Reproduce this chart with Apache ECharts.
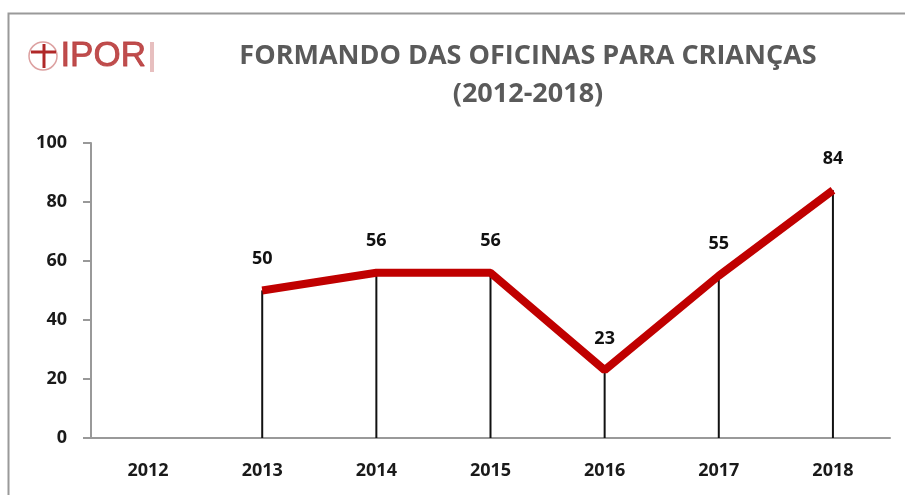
<!DOCTYPE html>
<html>
<head>
<meta charset="utf-8">
<script src="https://cdn.jsdelivr.net/npm/echarts@6/dist/echarts.min.js"></script>
<style>
  html, body { margin: 0; padding: 0; background: #fff; }
  #chart { width: 905px; height: 495px; }
</style>
</head>
<body>
<div id="chart"></div>
<script>
// anos e número de formandos
const years = ['2012', '2013', '2014', '2015', '2016', '2017', '2018']
const formandos = [null, 50, 56, 56, 23, 55, 84]
const yTicks = [0, 20, 40, 60, 80, 100]

const chart = echarts.init(document.getElementById('chart'))

const labelFont = {
    fontFamily: 'Open Sans',
    fontWeight: 'bold',
    fontSize: 18,
    color: '#1a1a1a'
}

const option = {
    animation: false,
    title: {
        text: 'FORMANDO DAS OFICINAS PARA CRIANÇAS\n(2012-2018)',
        left: 523,
        top: 32,
        textAlign: 'center',
        textStyle: {
            fontFamily: 'Open Sans',
            fontWeight: 'bold',
            fontSize: 27,
            color: '#5a5a5a',
            lineHeight: 38
        }
    },
    graphic: [
        // moldura
        {
            type: 'rect',
            shape: { x: 8.5, y: 13.5, width: 910, height: 500 },
            style: { fill: 'none', stroke: '#9a9a9a', lineWidth: 2 }
        },
        // logotipo
        {
            type: 'circle',
            shape: { cx: 43, cy: 56, r: 14 },
            style: { fill: 'none', stroke: '#c46060', lineWidth: 1.5, opacity: 0.6 }
        },
        {
            type: 'line',
            shape: { x1: 31, y1: 52, x2: 56, y2: 52 },
            style: { stroke: '#b02828', lineWidth: 3 }
        },
        {
            type: 'line',
            shape: { x1: 44, y1: 44, x2: 44, y2: 68 },
            style: { stroke: '#b02828', lineWidth: 3 }
        },
        {
            type: 'text',
            left: 60,
            top: 38,
            style: { text: 'IPOR', fill: '#b83a3a', stroke: '#b83a3a', lineWidth: 0.8, font: '35px "Liberation Sans"', opacity: 0.9 }
        },
        {
            type: 'rect',
            shape: { x: 150, y: 42, width: 4, height: 30 },
            style: { fill: '#d08080', opacity: 0.5 }
        }
    ],
    grid: {
        left: 91,
        right: 15,
        top: 143,
        bottom: 57
    },
    xAxis: {
        type: 'category',
        data: years,
        boundaryGap: true,
        axisLine: { lineStyle: { color: '#999', width: 2 } },
        axisTick: { show: false },
        axisLabel: Object.assign({ margin: 24 }, labelFont)
    },
    yAxis: {
        type: 'value',
        min: yTicks[0],
        max: yTicks[yTicks.length - 1],
        interval: 20,
        axisLine: { show: true, lineStyle: { color: '#999', width: 2 } },
        axisTick: { show: true, length: 8, lineStyle: { color: '#999', width: 2 } },
        splitLine: { show: false },
        axisLabel: Object.assign({ margin: 24 }, labelFont)
    },
    series: [
        {
            // linhas verticais de referência
            type: 'bar',
            data: formandos,
            barWidth: 2,
            itemStyle: { color: '#111' },
            silent: true,
            z: 1
        },
        {
            type: 'line',
            data: formandos,
            symbol: 'circle',
            symbolSize: 1,
            itemStyle: { color: '#c00000' },
            lineStyle: { color: '#c00000', width: 8 },
            label: Object.assign({}, labelFont, {
                show: true,
                position: 'top',
                distance: 22,
                color: '#111'
            }),
            z: 3
        }
    ]
}

chart.setOption(option)
</script>
</body>
</html>
